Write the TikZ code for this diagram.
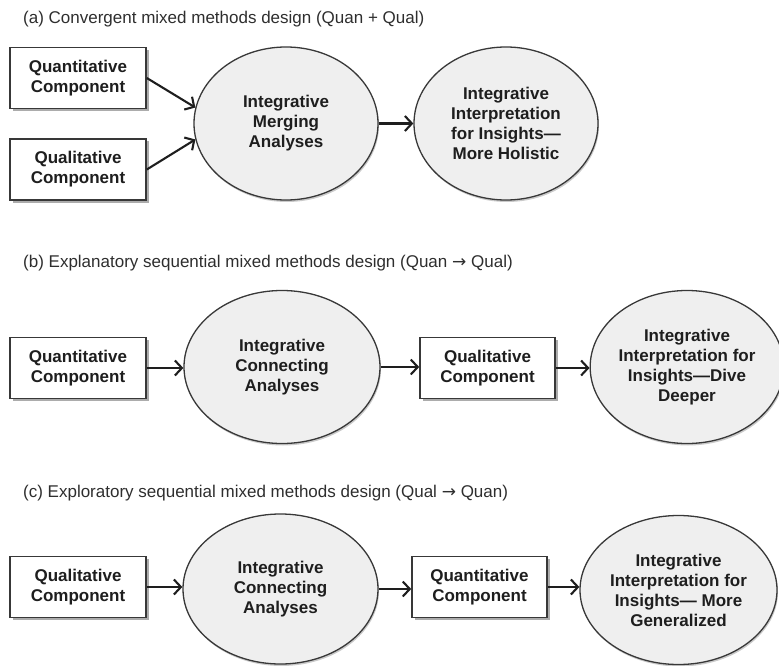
\documentclass[tikz,border=0pt]{standalone}
\usepackage{fontspec}
\setmainfont{Liberation Sans}
\newfontfamily\arrowfont{DejaVu Sans}
\usetikzlibrary{shapes.geometric,shadows,arrows.meta}
\definecolor{ink}{HTML}{1E1E1E}
\definecolor{edge}{HTML}{383838}
\definecolor{ovalfill}{HTML}{EFEFEF}
\definecolor{caption}{HTML}{2E2E2E}
\tikzset{
  comp/.style={rectangle, draw=edge, line width=1.6pt, fill=white,
    minimum width=136pt, minimum height=61pt, inner sep=0pt, align=center,
    font=\bfseries\fontsize{17}{20}\selectfont, text=ink,
    drop shadow={shadow xshift=2.5pt, shadow yshift=-2.5pt, opacity=0.5, fill=black!65}},
  oval/.style={ellipse, draw=edge, line width=1.3pt, fill=ovalfill,
    inner sep=0pt, align=center,
    font=\bfseries\fontsize{17}{20}\selectfont, text=ink,
    drop shadow={shadow xshift=1pt, shadow yshift=-2pt, opacity=0.35, fill=black!60}},
  flow/.style={draw=ink, line width=2.1pt, -{Straight Barb[length=7pt,width=15pt]}},
  panelhead/.style={anchor=west, inner sep=0pt, text=caption,
    font=\fontsize{17}{20}\selectfont}
}
\begin{document}
\begin{tikzpicture}[x=1pt,y=-1pt]
\useasboundingbox (0,0) rectangle (779,666);

% (a) convergent design
\node[panelhead] (ta) at (23,19) {(a) Convergent mixed methods design (Quan + Qual)};
\node[comp] (qa1) at (78,78) {Quantitative\\Component};
\node[comp] (qa2) at (78,169.5) {Qualitative\\Component};
\node[oval, minimum width=184pt, minimum height=153pt] (ma) at (286,123.5)
  {Integrative\\Merging\\Analyses};
\node[oval, minimum width=184pt, minimum height=153pt] (ia) at (506,123.5)
  {Integrative\\Interpretation\\for Insights—\\More Holistic};
\draw[flow] (qa1.east) -- (ma.170);
\draw[flow] (qa2.east) -- (ma.190);
\draw[flow] (ma.east) -- (ia.west);

% (b) explanatory sequential design
\node[panelhead] (tb) at (23,263) {(b) Explanatory sequential mixed methods design (Quan {\arrowfont →} Qual)};
\node[comp] (qb1) at (78,368) {Quantitative\\Component};
\node[oval, minimum width=196pt, minimum height=153pt] (cb) at (282,367)
  {Integrative\\Connecting\\Analyses};
\node[comp, minimum width=135pt] (qb2) at (487.5,368) {Qualitative\\Component};
\node[oval, minimum width=188pt, minimum height=153pt] (ib) at (687,367)
  {Integrative\\Interpretation for\\Insights—Dive\\Deeper};
\draw[flow] (qb1.east) -- (qb1.east -| cb.west);
\draw[flow] (cb.east) -- (cb.east -| qb2.west);
\draw[flow] (qb2.east) -- (qb2.east -| ib.west);

% (c) exploratory sequential design
\node[panelhead] (tc) at (23,493) {(c) Exploratory sequential mixed methods design (Qual {\arrowfont →} Quan)};
\node[comp] (qc1) at (78,587) {Qualitative\\Component};
\node[oval, minimum width=195pt, minimum height=150pt] (cc) at (280.5,589)
  {Integrative\\Connecting\\Analyses};
\node[comp, minimum width=135pt] (qc2) at (479.5,587) {Quantitative\\Component};
\node[oval, minimum width=197pt, minimum height=149pt] (ic) at (678.5,590)
  {Integrative\\Interpretation for\\Insights— More\\Generalized};
\draw[flow] (qc1.east) -- (qc1.east -| cc.west);
\draw[flow] (cc.east) -- (cc.east -| qc2.west);
\draw[flow] (qc2.east) -- (qc2.east -| ic.west);
\end{tikzpicture}
\end{document}
